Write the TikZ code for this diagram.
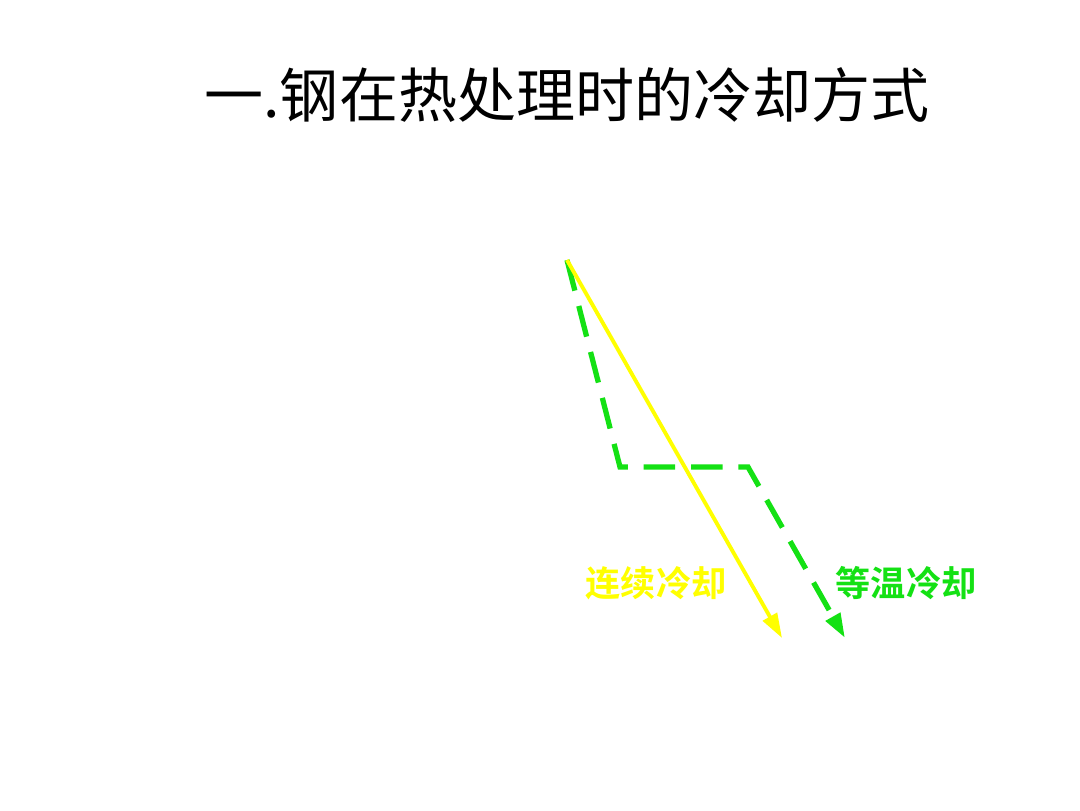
\documentclass[tikz,border=0pt]{standalone}
\usepackage{fontspec}
\newfontfamily\cjk[BoldFont={Noto Sans CJK SC Bold}]{Noto Sans CJK SC}
\usetikzlibrary{arrows.meta}
\definecolor{coolyellow}{RGB}{255,255,0}
\definecolor{coolgreen}{RGB}{20,225,20}

\begin{document}
\begin{tikzpicture}
            \tikzstyle{title node}=[inner sep=0pt,font=\cjk\fontsize{16.8}{18}\selectfont]
            \tikzstyle{label node}=[inner sep=0pt,font=\cjk\bfseries\fontsize{10}{12}\selectfont]
            \tikzstyle{cont line}=[coolyellow,line width=1.1pt,-{Triangle[length=7pt,width=4.5pt]}]
            \tikzstyle{iso line}=[coolgreen,line width=1.5pt,dash pattern=on 9pt off 4.5pt,-{Triangle[length=7pt,width=4.5pt]}]
            \useasboundingbox (0,0) rectangle (10.8,8.1);

            \node[title node] (TT) at (5.67,7.15) {一.钢在热处理时的冷却方式};

            \coordinate (ST) at (5.67,5.50);
            \coordinate (HL) at (6.20,3.43);
            \coordinate (HR) at (7.48,3.43);
            \coordinate (CE) at (7.82,1.72);
            \coordinate (IE) at (8.45,1.72);

            \node[label node,text=coolyellow] (CC) at (6.56,2.27) {连续冷却};
            \node[label node,text=coolgreen] (IC) at (9.06,2.27) {等温冷却};

            \draw[iso line] (ST) -- (HL) -- (HR) -- (IE);
            \draw[cont line] (ST) -- (CE);
        \end{tikzpicture}
\end{document}
